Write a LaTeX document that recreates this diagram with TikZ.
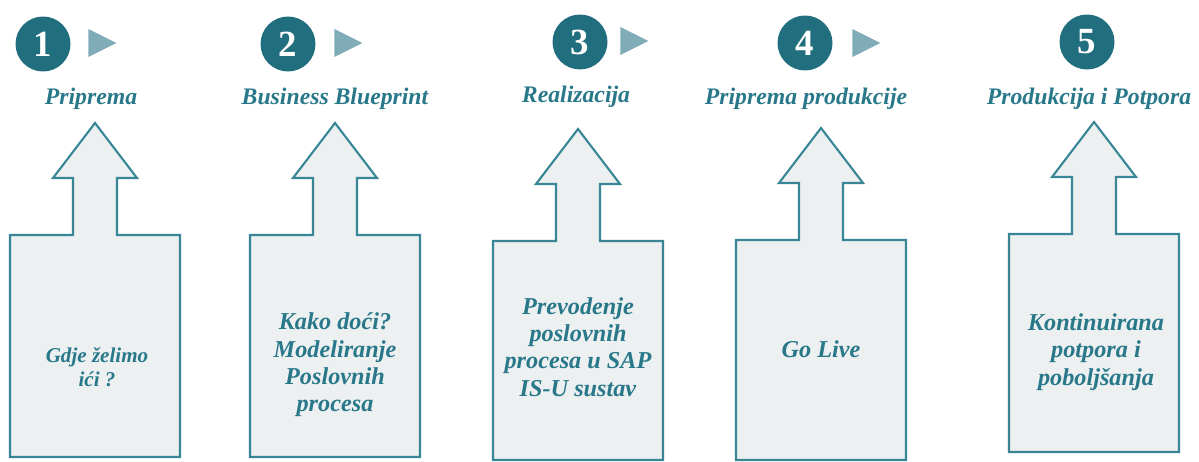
\documentclass[tikz,border=0pt]{standalone}
\usepackage{fontspec}
\setmainfont{Liberation Serif}
\usetikzlibrary{shapes.geometric}
\definecolor{phaseTeal}{RGB}{40,120,138}
\definecolor{circleTeal}{RGB}{33,110,127}
\definecolor{pointerTeal}{RGB}{128,172,184}
\definecolor{boxLine}{RGB}{56,134,150}
\definecolor{boxFill}{RGB}{236,240,241}
\newcommand{\phaseArrow}[3]{%%
  %% One box with its arrow on top: centre x = #1, box top #2, box bottom #3.
  \draw[boxStyle] (#1-\halfBox,#3) -- (#1-\halfBox,#2) -- (#1-\halfStem,#2)
  -- (#1-\halfStem,#2-\stemLength) -- (#1-\halfHead,#2-\stemLength)
  -- (#1,#2-\stemLength-\headLength) -- (#1+\halfHead,#2-\stemLength)
  -- (#1+\halfStem,#2-\stemLength) -- (#1+\halfStem,#2)
  -- (#1+\halfBox,#2) -- (#1+\halfBox,#3) -- cycle;
}

\begin{document}
\begin{tikzpicture}[%%
  x=0.02cm,y=-0.02cm,%%
  boxStyle/.style={line width=1.2pt,draw=boxLine,fill=boxFill},%%
  numStyle/.style={circle,fill=circleTeal,text=white,inner sep=0pt,%%
    minimum size=1.1cm,font=\fontsize{21}{21}\selectfont\bfseries},%%
  pointerStyle/.style={isosceles triangle,isosceles triangle stretches,%%
    fill=pointerTeal,inner sep=0pt,minimum width=0.56cm,minimum height=0.56cm},%%
  phaseStyle/.style={text=phaseTeal,font=\fontsize{13.5}{15}\selectfont\bfseries\itshape},%%
  noteStyle/.style={text=phaseTeal,align=center,%%
    font=\fontsize{13.8}{15.5}\selectfont\bfseries\itshape}%%
]
\useasboundingbox (0,0) rectangle (1199,462);
%%
%%
\pgfmathsetmacro{\halfBox}{85}     %% Half width of each box.
\pgfmathsetmacro{\halfStem}{22}    %% Half width of the arrow stem.
\pgfmathsetmacro{\halfHead}{42}    %% Half width of the arrow head.
\pgfmathsetmacro{\stemLength}{57}
\pgfmathsetmacro{\headLength}{55}
%%
%%
%% The five boxes with their arrows.
\phaseArrow{95}{235}{457}
\phaseArrow{335}{235}{457}
\phaseArrow{578}{241}{460}
\phaseArrow{821}{240}{460}
\phaseArrow{1094}{234}{452}
%%
%% Numbered circles and the pointers between them.
\node[numStyle] (num1) at (43,44) {1};
\node[numStyle] (num2) at (288,44) {2};
\node[numStyle] (num3) at (580,42) {3};
\node[numStyle] (num4) at (805,43) {4};
\node[numStyle] (num5) at (1087,42) {5};
\node[pointerStyle] (ptr1) at (97,43) {};
\node[pointerStyle] (ptr2) at (343,43) {};
\node[pointerStyle] (ptr3) at (629,41) {};
\node[pointerStyle] (ptr4) at (861,43) {};
%%
%% Phase names.
\node[phaseStyle] (phase1) at (91,99) {Priprema};
\node[phaseStyle] (phase2) at (335,99) {Business Blueprint};
\node[phaseStyle] (phase3) at (576,97) {Realizacija};
\node[phaseStyle] (phase4) at (806,99) {Priprema produkcije};
\node[phaseStyle] (phase5) at (1089,99) {Produkcija i Potpora};
%%
%% Texts inside the boxes.
\node[noteStyle,font=\fontsize{12}{13.5}\selectfont\bfseries\itshape]
  (note1) at (97,367) {Gdje želimo\\ići ?};
\node[noteStyle] (note2) at (335,365) {Kako doći?\\Modeliranje\\Poslovnih\\procesa};
\node[noteStyle] (note3) at (578,347) {Prevodenje\\poslovnih\\procesa u SAP\\IS-U sustav};
\node[noteStyle] (note4) at (821,349) {Go Live};
\node[noteStyle] (note5) at (1096,352) {Kontinuirana\\potpora i\\poboljšanja};
\end{tikzpicture}
\end{document}
